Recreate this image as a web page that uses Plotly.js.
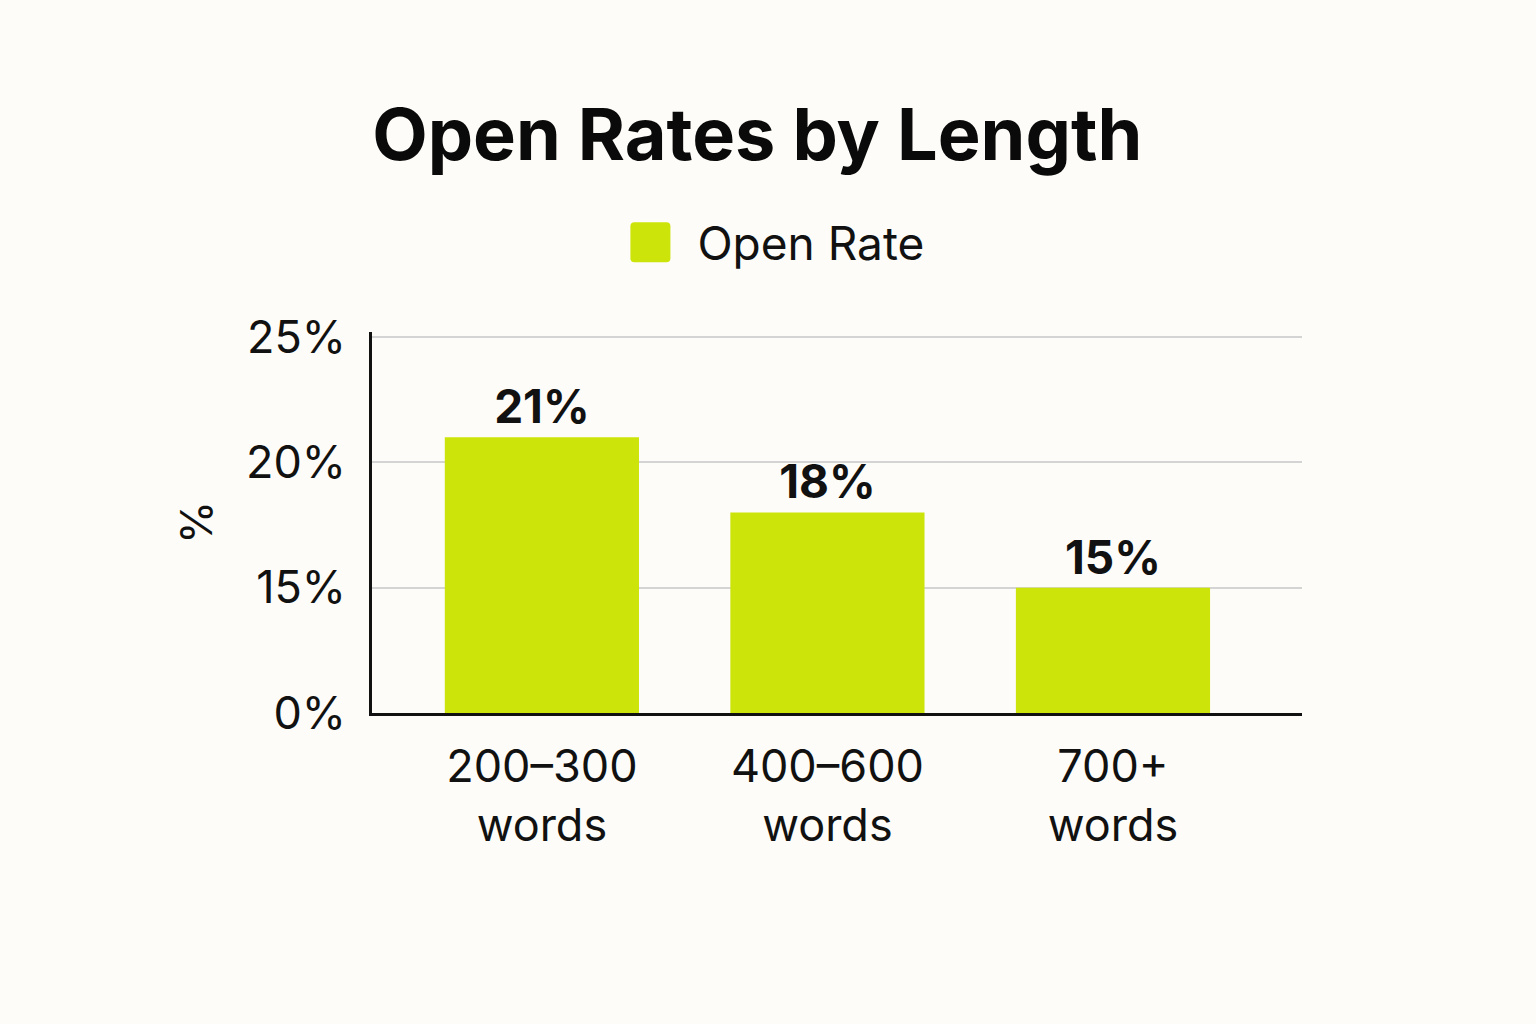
<!DOCTYPE html>
<html>
<head>
<meta charset="utf-8">
<script src="https://cdn.plot.ly/plotly-3.0.1.min.js"></script>
<style>
  html, body { margin: 0; padding: 0; background: #fdfcf8; }
  #chart { width: 1536px; height: 1024px; }
</style>
</head>
<body>
<div id="chart"></div>
<script>
// Data
const categories = ["200–300<br>words", "400–600<br>words", "700+<br>words"];
const openRates = [21, 18, 15];
const barLabels = ["21%", "18%", "15%"];
const seriesName = "Open Rate";
// Broken y axis as drawn in the reference: bottom of axis is labelled 0%, then 15%, 20%, 25%
const yTickVals = [10, 15, 20, 25];
const yTickText = ["0%", "15%", "20%", "25%"];

const FONT = "Inter, 'Noto Sans', 'DejaVu Sans', sans-serif";
const BAR_COLOR = "#cde40a";

const trace = {
  type: "bar",
  x: categories,
  y: openRates,
  name: seriesName,
  text: barLabels,
  textposition: "outside",
  cliponaxis: false,
  constraintext: "none",
  textfont: { family: FONT, size: 46, color: "#111111", weight: "bold" },
  marker: { color: BAR_COLOR, line: { width: 0 } },
  hoverinfo: "x+y",
  showlegend: true
};

const layout = {
  width: 1536,
  height: 1024,
  paper_bgcolor: "#fdfcf8",
  plot_bgcolor: "#fdfcf8",
  margin: { l: 372, r: 234, t: 332, b: 311 },
  font: { family: FONT, color: "#111111" },
  bargap: 0.32,
  title: {
    text: "<b>Open Rates by Length</b>",
    font: { family: FONT, size: 72, color: "#0a0a0a" },
    x: 0.493, xanchor: "center",
    y: 1 - 135 / 1024, yref: "container", yanchor: "middle"
  },
  showlegend: true,
  legend: {
    orientation: "h",
    x: 0.437, xanchor: "center",
    y: 1.235, yanchor: "middle",
    itemwidth: 60,
    font: { family: FONT, size: 46, color: "#111111" },
    bgcolor: "rgba(0,0,0,0)"
  },
  xaxis: {
    type: "category",
    range: [-0.595, 2.662],
    showgrid: false,
    showline: true,
    linecolor: "#111111",
    linewidth: 3,
    ticks: "",
    ticklabelstandoff: 12,
    tickfont: { family: FONT, size: 45, color: "#111111" },
    zeroline: false
  },
  yaxis: {
    range: [10, 25.2],
    tickvals: yTickVals,
    ticktext: yTickText,
    showgrid: true,
    gridcolor: "#d4d4d4",
    gridwidth: 2,
    showline: true,
    linecolor: "#111111",
    linewidth: 3,
    ticks: "",
    ticklabelstandoff: 14,
    tickfont: { family: FONT, size: 45, color: "#111111" },
    zeroline: false,
    title: {
      text: "%",
      font: { family: FONT, size: 44, color: "#111111" },
      standoff: 20
    }
  }
};

Plotly.newPlot("chart", [trace], layout, { displayModeBar: false, staticPlot: true }).then(function (gd) {
  // Enlarge the legend swatch to match the reference's big rounded square
  const pts = gd.querySelectorAll(".legend .legendpoints path");
  pts.forEach(function (p) {
    p.setAttribute("d", "M-28,-20H4Q8,-20 8,-16V16Q8,20 4,20H-28Q-32,20 -32,16V-16Q-32,-20 -28,-20Z");
    p.style.fill = BAR_COLOR;
  });
});
</script>
</body>
</html>
